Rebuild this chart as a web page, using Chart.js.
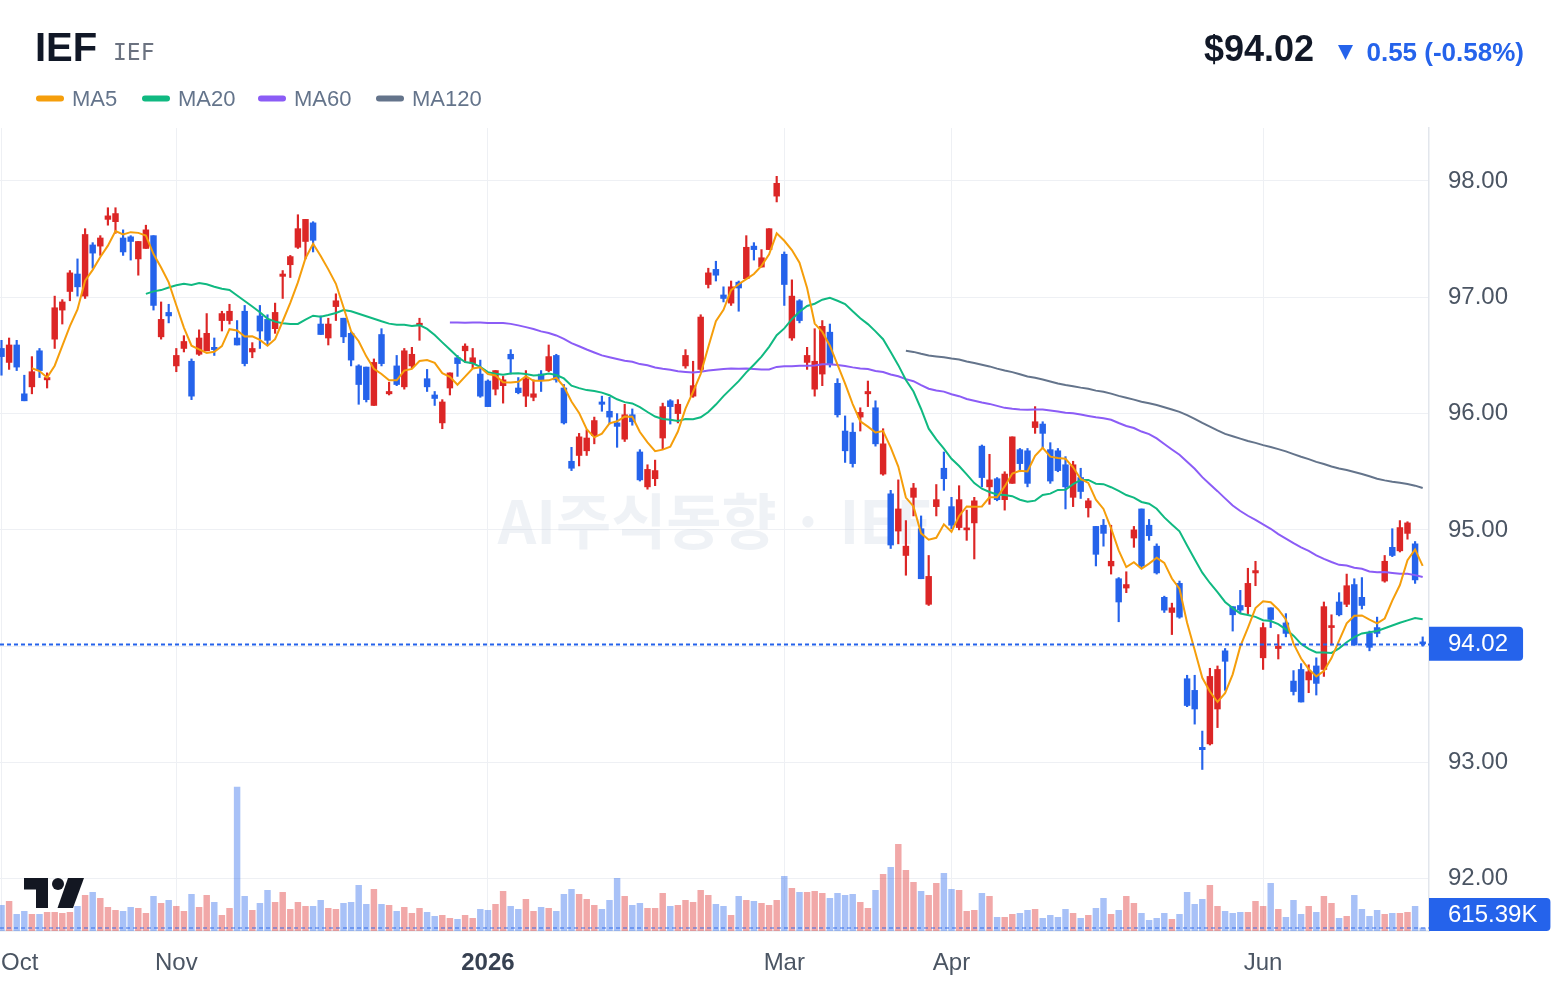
<!DOCTYPE html>
<html>
<head>
<meta charset="utf-8">
<script src="https://cdn.jsdelivr.net/npm/chart.js@4.4.1/dist/chart.umd.min.js"></script>
<style>
  html, body { margin: 0; padding: 0; background: #fff; }
  #wrap { position: relative; width: 1560px; height: 988px; }
</style>
</head>
<body>
<div id="wrap"><canvas id="chart" width="1560" height="988"></canvas></div>
<script>
// daily bars, Oct 2025 .. Jun 2026 (index = trading day)
const opens = [
  96.56, 96.44, 96.59, 96.17, 96.23, 96.54, 96.29, 96.64, 96.89, 97.05,
  97.20, 97.01, 97.45, 97.44, 97.67, 97.65, 97.51, 97.52, 97.33, 97.42,
  97.53, 96.66, 96.87, 96.41, 96.56, 96.45, 96.51, 96.54, 96.57, 96.80,
  96.80, 96.65, 96.88, 96.53, 96.84, 96.81, 96.73, 97.18, 97.28, 97.43,
  97.48, 97.64, 96.77, 96.65, 96.92, 96.82, 96.69, 96.41, 96.40, 96.07,
  96.68, 96.17, 96.41, 96.23, 96.41, 96.76, 96.30, 96.16, 95.92, 96.22,
  96.48, 96.54, 96.43, 96.34, 96.28, 96.21, 96.24, 96.51, 96.22, 96.15,
  96.14, 96.34, 96.37, 96.50, 96.22, 95.59, 95.64, 95.68, 95.81, 96.10,
  96.02, 95.92, 95.78, 95.99, 95.67, 95.37, 95.44, 95.79, 96.11, 96.00,
  96.41, 96.15, 96.38, 97.11, 97.24, 97.02, 96.95, 97.13, 97.16, 97.44,
  97.26, 97.41, 97.87, 97.37, 96.65, 96.97, 96.44, 96.21, 96.34, 96.70,
  96.26, 95.85, 95.84, 95.97, 96.17, 96.05, 95.48, 95.31, 94.99, 94.78,
  95.28, 95.01, 94.36, 95.20, 95.53, 95.20, 95.02, 95.00, 95.06, 95.72,
  95.37, 95.44, 95.26, 95.40, 95.69, 95.68, 95.88, 95.91, 95.69, 95.68,
  95.56, 95.28, 95.45, 95.19, 95.03, 95.04, 94.69, 94.58, 94.50, 94.93,
  95.18, 95.04, 94.86, 94.42, 94.29, 94.54, 93.72, 93.62, 93.13, 93.16,
  93.46, 93.96, 94.34, 94.35, 94.34, 94.63, 93.90, 94.33, 93.98, 94.20,
  93.70, 93.80, 93.71, 93.83, 93.80, 94.16, 94.38, 94.36, 94.53, 94.42,
  94.11, 94.16, 94.56, 94.85, 94.82, 94.97, 94.88, 94.03
];
const highs = [
  96.63, 96.65, 96.63, 96.33, 96.49, 96.56, 96.35, 97.01, 96.98, 97.23,
  97.33, 97.59, 97.47, 97.53, 97.77, 97.77, 97.58, 97.53, 97.48, 97.62,
  97.53, 96.96, 96.94, 96.56, 96.67, 96.47, 96.72, 96.86, 96.65, 96.88,
  96.94, 96.80, 96.93, 96.61, 96.93, 96.85, 96.95, 97.23, 97.36, 97.71,
  97.67, 97.65, 96.84, 96.82, 97.03, 96.82, 96.70, 96.42, 96.40, 96.47,
  96.73, 96.27, 96.50, 96.56, 96.57, 96.82, 96.38, 96.19, 96.12, 96.35,
  96.50, 96.60, 96.56, 96.46, 96.29, 96.37, 96.32, 96.55, 96.31, 96.37,
  96.29, 96.37, 96.59, 96.51, 96.25, 95.71, 95.83, 95.86, 95.97, 96.15,
  96.14, 96.00, 96.08, 96.04, 95.69, 95.56, 95.60, 96.09, 96.12, 96.12,
  96.55, 96.45, 96.85, 97.25, 97.31, 97.09, 97.14, 97.14, 97.53, 97.47,
  97.41, 97.59, 98.04, 97.39, 97.15, 96.98, 96.57, 96.73, 96.80, 96.77,
  96.30, 95.98, 95.92, 96.05, 96.28, 96.11, 95.87, 95.34, 95.43, 95.08,
  95.40, 95.12, 94.78, 95.39, 95.67, 95.28, 95.38, 95.17, 95.28, 95.73,
  95.65, 95.45, 95.50, 95.80, 95.70, 95.70, 96.06, 95.93, 95.75, 95.70,
  95.63, 95.59, 95.53, 95.27, 95.03, 95.09, 95.04, 94.59, 94.64, 95.03,
  95.18, 95.09, 94.88, 94.43, 94.37, 94.56, 93.75, 93.75, 93.27, 93.81,
  93.83, 93.98, 94.34, 94.48, 94.67, 94.73, 94.20, 94.33, 94.10, 94.28,
  93.79, 93.85, 93.84, 93.90, 94.38, 94.27, 94.46, 94.62, 94.58, 94.59,
  94.13, 94.25, 94.78, 95.01, 95.08, 95.07, 94.90, 94.08
];
const lows = [
  96.33, 96.38, 96.37, 96.11, 96.17, 96.31, 96.22, 96.56, 96.77, 96.97,
  97.01, 96.99, 97.25, 97.36, 97.62, 97.55, 97.36, 97.32, 97.19, 97.42,
  96.89, 96.64, 96.78, 96.36, 96.53, 96.12, 96.50, 96.54, 96.50, 96.71,
  96.77, 96.59, 96.41, 96.48, 96.56, 96.59, 96.69, 96.99, 97.17, 97.42,
  97.33, 97.39, 96.68, 96.59, 96.80, 96.61, 96.41, 96.08, 96.10, 96.07,
  96.41, 96.16, 96.24, 96.21, 96.39, 96.63, 96.19, 96.07, 95.87, 96.16,
  96.32, 96.44, 96.39, 96.14, 96.06, 96.16, 96.09, 96.34, 96.17, 96.06,
  96.11, 96.19, 96.36, 96.27, 95.91, 95.51, 95.55, 95.64, 95.74, 96.02,
  95.91, 95.71, 95.76, 95.90, 95.42, 95.35, 95.38, 95.69, 95.91, 95.92,
  96.39, 96.14, 96.37, 97.08, 97.14, 96.96, 96.93, 96.88, 97.16, 97.32,
  97.26, 97.41, 97.82, 96.93, 96.63, 96.78, 96.38, 96.15, 96.24, 96.40,
  95.97, 95.58, 95.54, 95.85, 96.06, 95.72, 95.47, 94.84, 94.88, 94.61,
  95.12, 94.58, 94.35, 95.12, 95.34, 95.01, 95.00, 94.91, 94.75, 95.37,
  95.22, 95.25, 95.17, 95.40, 95.50, 95.37, 95.83, 95.70, 95.40, 95.50,
  95.18, 95.20, 95.27, 95.11, 94.69, 94.86, 94.62, 94.21, 94.46, 94.85,
  94.67, 94.91, 94.62, 94.29, 94.10, 94.24, 93.48, 93.33, 92.94, 93.15,
  93.30, 93.62, 94.13, 94.28, 94.28, 94.52, 93.80, 94.16, 93.89, 94.08,
  93.58, 93.52, 93.60, 93.58, 93.74, 94.01, 94.26, 94.34, 94.01, 94.32,
  93.96, 94.08, 94.55, 94.77, 94.81, 94.92, 94.54, 94.00
];
const closes = [
  96.49, 96.59, 96.40, 96.11, 96.36, 96.37, 96.31, 96.91, 96.96, 97.21,
  97.09, 97.54, 97.38, 97.51, 97.70, 97.72, 97.39, 97.48, 97.48, 97.58,
  96.93, 96.81, 96.84, 96.50, 96.62, 96.15, 96.65, 96.69, 96.55, 96.86,
  96.88, 96.59, 96.43, 96.56, 96.71, 96.63, 96.87, 97.20, 97.35, 97.59,
  97.67, 97.49, 96.68, 96.77, 96.97, 96.66, 96.46, 96.25, 96.12, 96.44,
  96.43, 96.19, 96.25, 96.54, 96.51, 96.77, 96.23, 96.13, 96.10, 96.35,
  96.43, 96.58, 96.48, 96.15, 96.06, 96.37, 96.29, 96.47, 96.18, 96.30,
  96.17, 96.29, 96.49, 96.29, 95.92, 95.53, 95.80, 95.79, 95.94, 96.08,
  95.97, 95.89, 95.99, 95.93, 95.43, 95.52, 95.51, 96.06, 96.06, 96.08,
  96.50, 96.24, 96.83, 97.21, 97.19, 96.99, 97.09, 97.08, 97.43, 97.41,
  97.34, 97.59, 97.98, 97.11, 97.01, 96.80, 96.50, 96.45, 96.75, 96.42,
  95.99, 95.68, 95.57, 96.01, 96.19, 95.74, 95.74, 94.87, 95.18, 94.86,
  95.36, 94.58, 94.60, 95.26, 95.44, 95.04, 95.26, 95.01, 95.25, 95.45,
  95.43, 95.26, 95.48, 95.80, 95.57, 95.40, 95.93, 95.83, 95.42, 95.51,
  95.37, 95.56, 95.33, 95.25, 94.79, 94.97, 94.73, 94.38, 94.53, 95.00,
  94.69, 94.95, 94.63, 94.31, 94.33, 94.25, 93.49, 93.46, 93.11, 93.74,
  93.80, 93.87, 94.27, 94.31, 94.54, 94.65, 94.16, 94.23, 94.00, 94.11,
  93.61, 93.52, 93.78, 93.68, 94.34, 94.17, 94.27, 94.52, 94.01, 94.35,
  93.99, 94.11, 94.73, 94.78, 95.02, 95.06, 94.57, 94.02
];
// volume in millions of shares
const volumes = [
  5.13, 5.93, 3.33, 3.93, 3.33, 3.33, 3.73, 3.73, 3.53, 3.73,
  4.93, 7.13, 7.73, 6.53, 4.73, 4.13, 3.93, 4.73, 4.53, 3.53,
  6.93, 5.53, 6.13, 4.93, 3.93, 7.33, 4.73, 7.13, 5.73, 3.13,
  4.53, 28.8, 6.93, 4.13, 5.53, 8.13, 5.73, 7.73, 4.33, 5.73,
  4.93, 4.93, 6.13, 4.53, 4.33, 5.53, 5.73, 9.13, 5.33, 8.33,
  5.33, 5.13, 3.93, 4.73, 3.53, 4.53, 3.73, 2.93, 3.13, 2.53,
  2.33, 3.13, 2.53, 4.33, 4.13, 5.33, 7.93, 4.93, 4.33, 6.33,
  3.93, 4.73, 4.53, 3.93, 7.33, 8.33, 7.33, 6.33, 5.13, 4.33,
  6.13, 10.53, 6.93, 5.13, 5.53, 4.53, 4.53, 7.53, 4.93, 5.13,
  6.13, 5.73, 8.13, 7.13, 5.33, 4.93, 3.13, 6.93, 6.13, 5.93,
  5.53, 5.13, 6.13, 10.93, 8.53, 7.73, 7.73, 7.93, 7.53, 6.53,
  7.53, 7.13, 7.33, 5.73, 4.53, 8.13, 11.33, 12.73, 17.33, 12.13,
  9.73, 7.93, 7.13, 9.53, 11.53, 8.33, 8.13, 3.93, 4.13, 7.53,
  6.93, 2.73, 2.73, 3.33, 3.53, 4.13, 4.33, 2.53, 3.13, 2.73,
  4.33, 3.53, 2.53, 3.13, 4.53, 6.53, 3.33, 4.13, 6.93, 5.53,
  3.53, 2.13, 2.53, 3.53, 2.33, 3.33, 7.73, 5.33, 6.33, 9.13,
  4.93, 3.93, 3.53, 3.73, 3.73, 5.93, 4.93, 9.53, 4.33, 2.73,
  6.13, 3.33, 4.93, 3.73, 6.93, 5.53, 2.53, 2.93, 7.13, 4.33,
  2.93, 4.13, 3.33, 3.53, 3.53, 3.73, 4.93, 0.61539
];
const monthTicks = [0, 23, 64, 103, 125, 166];
const monthLabels = ['Oct', 'Nov', '2026', 'Mar', 'Apr', 'Jun'];
const priceTicks = [92, 93, 94, 95, 96, 97, 98];
const maPeriods = [5, 20, 60, 120];
const maColors = ['#f59e0b', '#10b981', '#8b5cf6', '#64748b'];
const legendX = [36, 142, 258, 376];

const FONT = '"Liberation Sans", Arial, Helvetica, sans-serif';
const UP = '#dc2626';
const DOWN = '#2563eb';
const GRID = '#eef0f4';

const isUp = closes.map((c, i) => c >= opens[i]);
const candleColors = isUp.map(u => (u ? UP : DOWN));
const volColors = isUp.map(u => (u ? 'rgba(220,38,38,0.4)' : 'rgba(37,99,235,0.4)'));

function movingAverage(n) {
  const out = [];
  for (let i = n - 1; i < closes.length; i++) {
    let s = 0;
    for (let k = i - n + 1; k <= i; k++) s += closes[k];
    out.push({ x: i, y: s / n });
  }
  return out;
}

const lastClose = closes[closes.length - 1];
const prevClose = closes[closes.length - 2];
const lastVol = volumes[volumes.length - 1];

const overlay = {
  id: 'overlay',
  beforeDatasetsDraw(chart) {
    const { ctx, chartArea } = chart;
    ctx.save();
    ctx.font = 'bold 60px "Noto Sans CJK KR", sans-serif';
    ctx.fillStyle = 'rgba(203,213,225,0.3)';
    ctx.textAlign = 'center';
    ctx.textBaseline = 'middle';
    ctx.fillText('AI주식동향 · IEF', (chartArea.left + chartArea.right) / 2, 521);
    ctx.restore();
  },
  afterDatasetsDraw(chart) {
    const { ctx, chartArea, scales } = chart;
    ctx.save();
    // last price line
    const py = Math.round(scales.y.getPixelForValue(lastClose)) + 0.5;
    ctx.strokeStyle = DOWN;
    ctx.lineWidth = 2;
    ctx.setLineDash([4, 3]);
    ctx.beginPath();
    ctx.moveTo(chartArea.left, py);
    ctx.lineTo(chartArea.right, py);
    ctx.stroke();
    // last volume line
    const vy = scales.yv.getPixelForValue(lastVol);
    ctx.strokeStyle = 'rgba(37,99,235,0.45)';
    ctx.beginPath();
    ctx.moveTo(chartArea.left, vy);
    ctx.lineTo(chartArea.right, vy);
    ctx.stroke();
    ctx.setLineDash([]);
    // TV logo
    ctx.fillStyle = '#131722';
    ctx.fillRect(24, 878, 24, 11.5);
    ctx.fillRect(36, 878, 12, 30);
    ctx.beginPath();
    ctx.arc(58, 884, 6, 0, Math.PI * 2);
    ctx.fill();
    ctx.beginPath();
    ctx.moveTo(68, 878);
    ctx.lineTo(84, 878);
    ctx.lineTo(73, 908);
    ctx.lineTo(57.5, 908);
    ctx.closePath();
    ctx.fill();
    ctx.restore();
  },
  afterDraw(chart) {
    const { ctx, chartArea, scales } = chart;
    ctx.save();
    ctx.textBaseline = 'alphabetic';

    // header
    ctx.textAlign = 'left';
    ctx.fillStyle = '#111827';
    ctx.font = `bold 40px ${FONT}`;
    ctx.fillText('IEF', 35, 61);
    ctx.fillStyle = '#6b7280';
    ctx.font = '23px "DejaVu Sans Mono", monospace';
    ctx.fillText('IEF', 113, 60);

    ctx.textAlign = 'right';
    ctx.fillStyle = '#111827';
    ctx.font = `bold 36px ${FONT}`;
    ctx.fillText('$' + lastClose.toFixed(2), 1314, 61);
    const chg = lastClose - prevClose;
    const pct = chg / prevClose * 100;
    ctx.fillStyle = DOWN;
    ctx.font = `bold 26px ${FONT}`;
    ctx.fillText(Math.abs(chg).toFixed(2) + ' (' + pct.toFixed(2) + '%)', 1524, 61);
    ctx.beginPath();
    ctx.moveTo(1338, 45);
    ctx.lineTo(1353, 45);
    ctx.lineTo(1345.5, 60);
    ctx.closePath();
    ctx.fill();

    // legend
    ctx.textAlign = 'left';
    ctx.font = `22px ${FONT}`;
    ctx.lineCap = 'round';
    ctx.lineWidth = 6;
    maPeriods.forEach((p, k) => {
      const lx = legendX[k];
      ctx.strokeStyle = maColors[k];
      ctx.beginPath();
      ctx.moveTo(lx + 3, 98.5);
      ctx.lineTo(lx + 25, 98.5);
      ctx.stroke();
      ctx.fillStyle = '#64748b';
      ctx.fillText('MA' + p, lx + 36, 106);
    });

    // month labels
    monthTicks.forEach((v, k) => {
      const bold = monthLabels[k] === '2026';
      ctx.font = (bold ? 'bold ' : '') + `24px ${FONT}`;
      ctx.fillStyle = bold ? '#374151' : '#4b5563';
      const w = ctx.measureText(monthLabels[k]).width;
      const px = scales.x.getPixelForValue(v);
      const left = Math.max(px - w / 2, 1);
      ctx.textAlign = 'left';
      ctx.fillText(monthLabels[k], left, 969.5);
    });

    // price label
    ctx.font = `24px ${FONT}`;
    ctx.textBaseline = 'middle';
    const py = scales.y.getPixelForValue(lastClose);
    const pText = lastClose.toFixed(2);
    const pw = ctx.measureText(pText).width;
    ctx.fillStyle = DOWN;
    ctx.beginPath();
    ctx.roundRect(chartArea.right, py - 17, 19 + pw + 15, 34, [0, 4, 4, 0]);
    ctx.fill();
    ctx.fillStyle = '#ffffff';
    ctx.fillText(pText, chartArea.right + 19, py + 1);

    // volume label
    const vText = (lastVol * 1000).toFixed(2) + 'K';
    const vw = ctx.measureText(vText).width;
    const vy = Math.min(scales.yv.getPixelForValue(lastVol), chartArea.bottom - 16.5);
    ctx.fillStyle = DOWN;
    ctx.beginPath();
    ctx.roundRect(chartArea.right, vy - 16.5, 19 + vw + 13, 33, [0, 4, 4, 0]);
    ctx.fill();
    ctx.fillStyle = '#ffffff';
    ctx.fillText(vText, chartArea.right + 19, vy + 1);
    ctx.restore();
  }
};

const maDatasets = maPeriods.map((p, k) => ({
  type: 'line',
  label: 'MA' + p,
  data: movingAverage(p),
  yAxisID: 'y',
  borderColor: maColors[k],
  borderWidth: 2,
  pointRadius: 0,
  tension: 0,
  order: 0
}));

new Chart(document.getElementById('chart'), {
  type: 'bar',
  data: {
    datasets: [
      ...maDatasets,
      {
        label: 'body',
        data: opens.map((o, i) => ({ x: i, y: [o, closes[i]] })),
        yAxisID: 'y',
        backgroundColor: candleColors,
        barThickness: 5.8,
        minBarLength: 2,
        grouped: false,
        order: 1
      },
      {
        label: 'wick',
        data: lows.map((l, i) => ({ x: i, y: [l, highs[i]] })),
        yAxisID: 'y',
        backgroundColor: candleColors,
        barThickness: 1.5,
        grouped: false,
        order: 2
      },
      {
        label: 'volume',
        data: volumes.map((v, i) => ({ x: i, y: v })),
        yAxisID: 'yv',
        backgroundColor: volColors,
        barThickness: 5.8,
        grouped: false,
        order: 3
      }
    ]
  },
  options: {
    responsive: false,
    devicePixelRatio: 1,
    animation: false,
    events: [],
    layout: { padding: { top: 128, left: 0, right: 0, bottom: 0 } },
    plugins: {
      legend: { display: false },
      tooltip: { enabled: false }
    },
    scales: {
      x: {
        type: 'linear',
        min: -0.197,
        max: 187.83,
        offset: false,
        afterBuildTicks(s) { s.ticks = monthTicks.map(v => ({ value: v })); },
        afterFit(s) { s.height = 57; },
        grid: { color: GRID, drawTicks: false, offset: false },
        border: { color: '#e2e6ec', width: 1.5 },
        ticks: { display: false }
      },
      y: {
        type: 'linear',
        position: 'right',
        min: 91.551,
        max: 98.4557,
        afterBuildTicks(s) { s.ticks = priceTicks.map(v => ({ value: v })); },
        afterFit(s) { s.width = 131; },
        grid: { color: GRID, drawTicks: false },
        border: { color: '#e2e6ec', width: 1.5 },
        ticks: {
          padding: 19,
          color: '#4b5563',
          font: { family: FONT, size: 24 },
          callback(v) { return Number(v).toFixed(2); }
        }
      },
      yv: {
        type: 'linear',
        display: false,
        min: 0,
        max: 160.6
      }
    }
  },
  plugins: [overlay]
});
</script>
</body>
</html>
